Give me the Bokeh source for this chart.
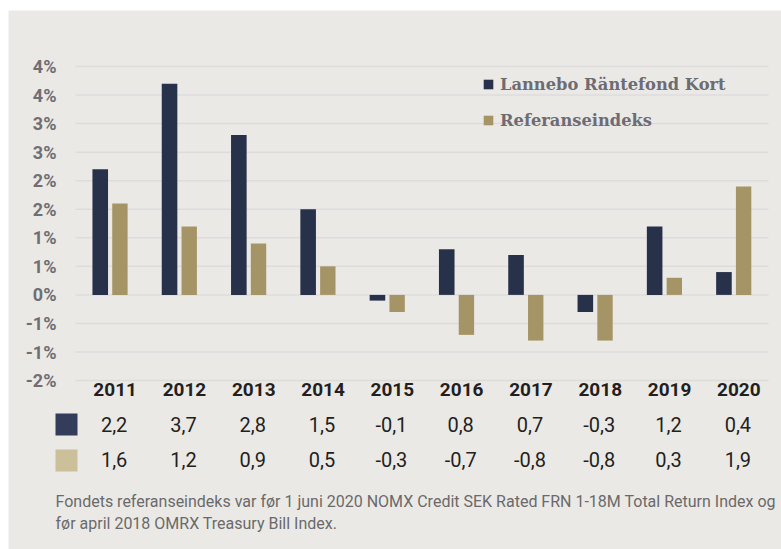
from bokeh.plotting import figure
from bokeh.models import Range1d, Legend, LegendItem, ColumnDataSource
from bokeh.core.properties import value
from bokeh.transform import dodge
from bokeh.embed import file_html
from bokeh.resources import INLINE

# ---- data ----
years = ["2011", "2012", "2013", "2014", "2015", "2016", "2017", "2018", "2019", "2020"]
fund = [2.2, 3.7, 2.8, 1.5, -0.1, 0.8, 0.7, -0.3, 1.2, 0.4]
bench = [1.6, 1.2, 0.9, 0.5, -0.3, -0.7, -0.8, -0.8, 0.3, 1.9]
series_names = ["Lannebo Räntefond Kort", "Referanseindeks"]
y_ticks = [-1.5, -1.0, -0.5, 0.0, 0.5, 1.0, 1.5, 2.0, 2.5, 3.0, 3.5, 4.0]
y_tick_labels = ["-2%", "-1%", "-1%", "0%", "1%", "1%", "2%", "2%", "3%", "3%", "4%", "4%"]
footnote = ["Fondets referanseindeks var før 1 juni 2020 NOMX Credit SEK Rated FRN 1-18M Total Return Index og",
            "før april 2018 OMRX Treasury Bill Index."]

# ---- layout constants (pixels in the page) ----
W, H = 781, 549
ML, MT = 8, 10
FL, FR, FT = 75, 768, 66      # plotting area of the bar chart
PX_X = (FR - FL) / len(years)
PX_Y = 57.1
Y_TOP = 4.0

def dx(px):
    return -0.5 + (px - FL) / PX_X

def dy(py):
    return Y_TOP - (py - FT) / PX_Y

BG = "#ebe9e6"
NAVY = "#27314a"
GOLD = "#a59566"
NAVY_T = "#333d5b"
GOLD_T = "#ccc09a"
DARK = "#231f20"
GREY = "#6f6e73"

idx = list(range(len(years)))
src = ColumnDataSource(dict(
    x=idx, fund=fund, bench=bench, years=years,
    fund_lbl=[f"{v:.1f}".replace(".", ",") for v in fund],
    bench_lbl=[f"{v:.1f}".replace(".", ",") for v in bench],
))
tick_src = ColumnDataSource(dict(y=y_ticks, lbl=y_tick_labels))

p = figure(width=W - ML, height=H - MT, output_backend="svg", toolbar_location=None,
           x_range=Range1d(dx(ML), dx(W)), y_range=Range1d(dy(H), dy(MT)),
           x_axis_location=None, y_axis_location=None, min_border=0)
p.margin = (MT, 0, 0, ML)
p.background_fill_color = BG
p.border_fill_color = BG
p.outline_line_color = None
p.grid.visible = False

# horizontal grid lines and value-axis labels
p.segment(x0=dx(FL), x1=dx(FR), y0="y", y1="y", source=tick_src,
          line_color="#dedbdd", line_width=1.5)
p.text(x=dx(56), y="y", text="lbl", source=tick_src,
       text_align="right", text_baseline="middle", text_font=value("Roboto"),
       text_font_style="bold", text_font_size="18px", text_color=GREY)

# bars
r1 = p.vbar(x=dodge("x", -0.143), top="fund", bottom=0, width=0.225, source=src,
            fill_color=NAVY, line_color=None)
r2 = p.vbar(x=dodge("x", 0.141), top="bench", bottom=0, width=0.222, source=src,
            fill_color=GOLD, line_color=None)

# category labels
p.text(x="x", y=dy(389), text="years", source=src, x_offset=5,
       text_align="center", text_baseline="middle", text_font=value("Roboto"),
       text_font_style="bold", text_font_size="19px", text_color=DARK)

# data table
p.text(x="x", y=dy(423.5), text="fund_lbl", source=src, x_offset=4,
       text_align="center", text_baseline="middle", text_font=value("Roboto"),
       text_font_size="20px", text_color=DARK)
p.text(x="x", y=dy(458.5), text="bench_lbl", source=src, x_offset=4,
       text_align="center", text_baseline="middle", text_font=value("Roboto"),
       text_font_size="20px", text_color=DARK)
p.rect(x=[dx(66), dx(66)], y=[dy(424), dy(460)], width=22, height=22,
       width_units="screen", height_units="screen", fill_color=[NAVY_T, GOLD_T], line_color=None)

# footnote
p.text(x=[dx(55), dx(55)], y=[dy(500.5), dy(522.5)], text=footnote,
       text_align="left", text_baseline="middle", text_font=value("Roboto"),
       text_font_size="16px", text_color="#6a6a6a")

legend = Legend(items=[LegendItem(label=series_names[0], renderers=[r1]),
                       LegendItem(label=series_names[1], renderers=[r2])],
                location=(482 - ML, H - 130), orientation="vertical",
                background_fill_alpha=0, border_line_color=None,
                padding=0, margin=0, spacing=16, glyph_width=12, glyph_height=12,
                label_height=20, label_standoff=6,
                label_text_font="DejaVu Serif", label_text_font_style="bold",
                label_text_font_size="16.3px", label_text_color="#6d6c72")
p.add_layout(legend)

open("out.html", "w").write(file_html(p, INLINE))
